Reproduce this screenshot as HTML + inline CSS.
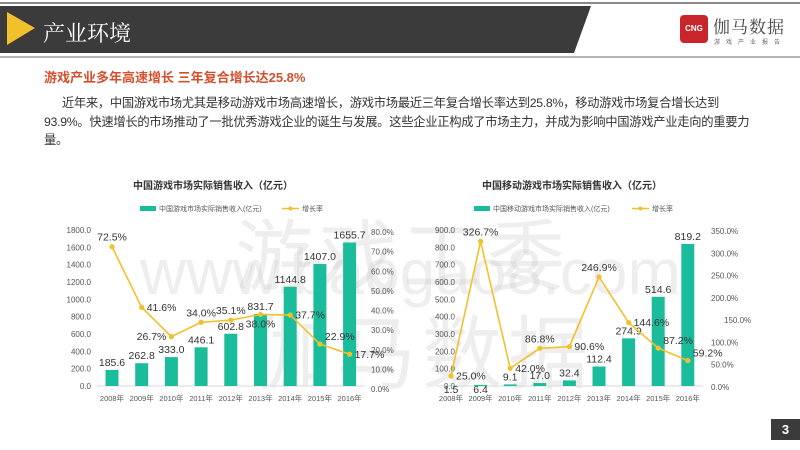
<!DOCTYPE html>
<html><head><meta charset="utf-8">
<style>
body{margin:0;width:800px;height:450px;overflow:hidden;background:#fff;font-family:"Liberation Sans","Noto Sans CJK SC",sans-serif;position:relative}
.abs{position:absolute}
</style></head><body>
<div class="abs" style="left:0;top:2px;width:800px;height:2px;background:#8a8a8a"></div>
<svg class="abs" style="left:0;top:0" width="800" height="60">
<polygon points="0,6 591,6 574,53 0,53" fill="#3b3b3b"/>
<polygon points="7,12 35,28 7,45" fill="#f2c02c"/>
<line x1="0" y1="57" x2="800" y2="57" stroke="#9a9a9a" stroke-width="1.5"/>
</svg>
<div class="abs" style="left:43px;top:17px;color:#fff;font-size:22px;font-family:'Noto Serif CJK SC',serif">产业环境</div>
<div class="abs" style="left:680px;top:15px;width:28px;height:28px;background:#c8262a;border-radius:4px;color:#fff;font-size:8px;line-height:28px;text-align:center;font-weight:bold">CNG</div>
<div class="abs" style="left:713px;top:13px;color:#444;font-size:17px;font-family:'Noto Serif CJK SC',serif;letter-spacing:1px">伽马数据</div>
<div class="abs" style="left:714px;top:37px;color:#666;font-size:6px;letter-spacing:6px">游戏产业报告</div>
<div class="abs" style="left:44px;top:67px;color:#d2502e;font-size:13px;font-weight:bold">游戏产业多年高速增长 三年复合增长达25.8%</div>
<div class="abs" style="left:44px;top:94px;width:720px;color:#333;font-size:12.3px;line-height:18.5px;white-space:nowrap;letter-spacing:-0.3px">&emsp;&ensp;近年来，中国游戏市场尤其是移动游戏市场高速增长，游戏市场最近三年复合增长率达到25.8%，移动游戏市场复合增长达到<br>93.9%。快速增长的市场推动了一批优秀游戏企业的诞生与发展。这些企业正构成了市场主力，并成为影响中国游戏产业走向的重要力<br>量。</div>
<div class="abs" style="left:0;top:0;width:800px;height:450px;color:rgba(200,200,200,0.3);pointer-events:none">
<div class="abs" style="left:235px;top:195px;font-size:78px;letter-spacing:6px">游戏工委</div>
<div class="abs" style="left:140px;top:235px;font-size:64px">www.baogao8.com</div>
<div class="abs" style="left:250px;top:290px;font-size:80px;letter-spacing:6px">伽马数据</div>
</div>
<svg id="chart" class="abs" style="left:0;top:0" width="800" height="450"></svg>
<div class="abs" style="left:771px;top:419px;width:29px;height:21px;background:#3b3b3b;color:#fff;font-weight:bold;font-size:13px;text-align:center;line-height:21px">3</div>
<script>
const years=["2008年","2009年","2010年","2011年","2012年","2013年","2014年","2015年","2016年"];
const revenueA=[185.6,262.8,333.0,446.1,602.8,831.7,1144.8,1407.0,1655.7];
const growthA=[72.5,41.6,26.7,34.0,35.1,38.0,37.7,22.9,17.7];
const revenueB=[1.5,6.4,9.1,17.0,32.4,112.4,274.9,514.6,819.2];
const growthB=[25.0,326.7,42.0,86.8,90.6,246.9,144.6,87.2,59.2];
const leftTicksA=[0,200,400,600,800,1000,1200,1400,1600,1800];
const rightTicksA=[0,10,20,30,40,50,60,70,80];
const leftTicksB=[0,100,200,300,400,500,600,700,800,900];
const rightTicksB=[0,50,100,150,200,250,300,350];
const placeA=['a','r','l','a','a','b','r','ra','r'];
const placeB=['r','a','r','a','r','a','r','ra','ra'];
const svg=document.getElementById('chart');
const NS='http://www.w3.org/2000/svg';
function mk(tag,attrs,txt){const e=document.createElementNS(NS,tag);for(const k in attrs)e.setAttribute(k,attrs[k]);if(txt!==undefined)e.textContent=txt;svg.appendChild(e);return e;}
function draw(cfg){
 const x=i=>cfg.x0+i*cfg.step;
 const yL=v=>cfg.yb-(v/cfg.lmax)*(cfg.yb-cfg.yt);
 const yR=v=>cfg.ybR-(v/cfg.rmax)*(cfg.ybR-cfg.ytR);
 let t=mk('text',{x:cfg.cx,y:189,'text-anchor':'middle','font-size':10,'font-weight':'bold',fill:'#333'},cfg.title);
 
 
 let r=mk('rect',{x:cfg.lgx,y:206,width:16,height:5,fill:'#1bbc9b'});
 
 
 t=mk('text',{x:cfg.lgx+19,y:211,'font-size':7,fill:'#555'},cfg.legend);
 
 
 let l=mk('line',{x1:cfg.lgx2,y1:208.5,x2:cfg.lgx2+17,y2:208.5,stroke:'#f2c02c','stroke-width':1.5});
 
 
 mk('circle',{cx:cfg.lgx2+8.5,cy:208.5,r:2,fill:'#f2c02c'});
 t=mk('text',{x:cfg.lgx2+20,y:211,'font-size':7,fill:'#555'},'增长率');
 
 
 cfg.lt.forEach(v=>{const e=mk('text',{x:cfg.lx,y:yL(v)+3,'text-anchor':'end','font-size':8,fill:'#555'},v.toFixed(1));
  
  });
 cfg.rt.forEach(v=>{const e=mk('text',{x:cfg.rx+(cfg.id==='mobile'&&v===150?13:0),y:yR(v)+3,'font-size':8,fill:'#555'},v.toFixed(1)+'%');
  
  });
 mk('line',{x1:x(0)-15,y1:cfg.yb,x2:x(8)+15,y2:cfg.yb,stroke:'#d9d9d9','stroke-width':1});
 cfg.rev.forEach((v,i)=>{const b=mk('rect',{x:x(i)-6.5,y:yL(v),width:13,height:cfg.yb-yL(v),fill:'#1bbc9b'});
  
  
  const by=Math.min(yL(v)-4,cfg.yb-(cfg.id==='mobile'&&i<2?-8:4));
  const e=mk('text',{x:x(i),y:cfg.id==='mobile'&&i<2?cfg.yb+7:yL(v)-4,'text-anchor':'middle','font-size':10.5,fill:'#333'},v.toFixed(1));
  
  
  const c=mk('text',{x:x(i),y:cfg.yb+15,'text-anchor':'middle','font-size':7.5,fill:'#555'},years[i]);
  
  });
 const p=mk('polyline',{points:cfg.gr.map((v,i)=>x(i)+','+yR(v)).join(' '),fill:'none',stroke:'#f2c02c','stroke-width':1.6});
 
 
 cfg.gr.forEach((v,i)=>{const c=mk('circle',{cx:x(i),cy:yR(v),r:2.6,fill:'#f2c02c'});
  
  
  const pl=cfg.place[i];let tx=x(i),ty=yR(v)+3.5,an='start';
  if(pl==='r'){tx+=5;}
  else if(pl==='l'){tx-=5;an='end';}
  else if(pl==='a'){ty=yR(v)-6;an='middle';}
  else if(pl==='b'){ty=yR(v)+13;an='middle';}
  else if(pl==='ra'){tx+=5;ty=yR(v)-4;}
  const e=mk('text',{x:tx,y:ty,'text-anchor':an,'font-size':10.5,fill:'#333'},v.toFixed(1)+'%');
  
  });
}
draw({id:'total',title:'中国游戏市场实际销售收入（亿元）',legend:'中国游戏市场实际销售收入(亿元)',cx:213,lgx:140,lgx2:282,x0:112,step:29.7,yb:386,yt:230,lmax:1800,ybR:389,ytR:232,rmax:80,lx:91,rx:371,rev:revenueA,gr:growthA,lt:leftTicksA,rt:rightTicksA,place:placeA});
draw({id:'mobile',title:'中国移动游戏市场实际销售收入（亿元）',legend:'中国移动游戏市场实际销售收入(亿元)',cx:572,lgx:474,lgx2:632,x0:451,step:29.6,yb:386,yt:230,lmax:900,ybR:387,ytR:231,rmax:350,lx:455,rx:711,rev:revenueB,gr:growthB,lt:leftTicksB,rt:rightTicksB,place:placeB});
</script>
</body></html>
